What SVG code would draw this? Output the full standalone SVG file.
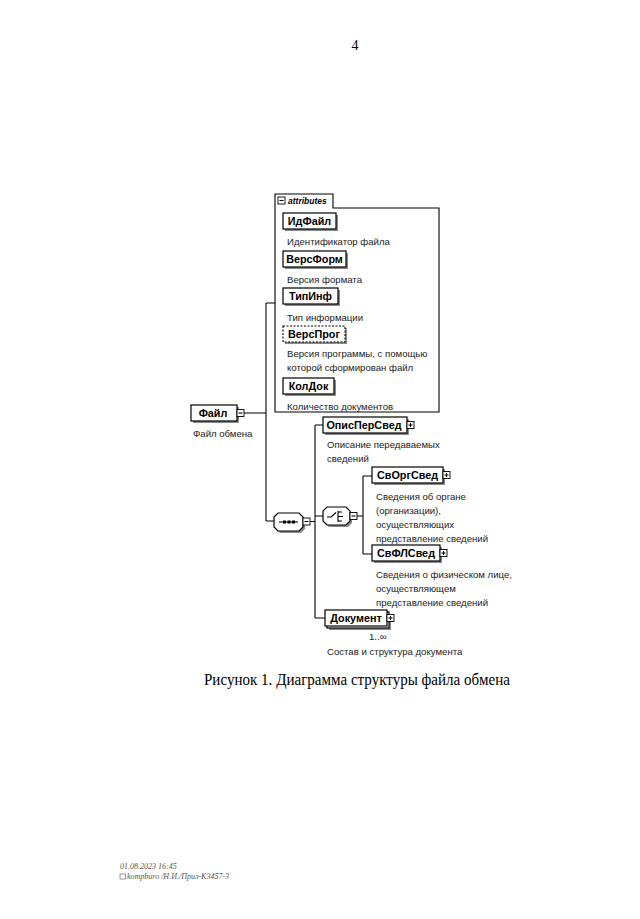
<svg xmlns="http://www.w3.org/2000/svg" width="640" height="919" viewBox="0 0 640 919">
<style>
.bg{fill:#ffffff}
.box{fill:#ffffff;stroke:#000;stroke-width:1.2}
.dash{fill:#ffffff;stroke:#000;stroke-width:1.1;stroke-dasharray:2 1.5}
.sh{fill:#8a8a8a}
.ln{fill:none;stroke:#000;stroke-width:1.1}
.nm{font-family:"Liberation Sans",Arial,sans-serif;font-size:10.8px;font-weight:bold;fill:#000;text-anchor:middle}
.ds{font-family:"Liberation Sans",Arial,sans-serif;font-size:9.6px;fill:#222}
.pm{fill:#fff;stroke:#000;stroke-width:0.9}
</style>
<rect class="bg" x="0" y="0" width="640" height="919"/>
<text x="355" y="50" font-family="Liberation Serif,serif" font-size="14" fill="#000" text-anchor="middle">4</text>

<g id="connectors">
<path class="ln" d="M244,413 H266 M266,303 V521 M266,303 H275 M266,521 H274"/>
<path class="ln" d="M310,521.5 H315 M315,425 V618 M315,425 H323 M315,516 H323 M315,618 H325"/>
<path class="ln" d="M357,516 H363 M363,476 V554 M363,476 H372 M363,554 H372"/>
</g>

<g id="attributes">
<path class="ln" d="M275,194 H333 V208 H439 V412 H275 Z M275,194 V412" stroke-width="1.2"/>
<rect class="pm" x="278" y="197" width="7" height="7"/>
<path class="ln" d="M279.5,200.5 H283.5" stroke-width="0.9"/>
<text x="288" y="204" font-family="Liberation Sans,Arial,sans-serif" font-size="8.5" font-style="italic" font-weight="bold" fill="#000">attributes</text>
</g>

<g id="IdFile">
<rect class="sh" x="285" y="215" width="53" height="16"/>
<rect class="box" x="283" y="213" width="53" height="16"/>
<text class="nm" x="309.5" y="225">ИдФайл</text>
<text class="ds" x="287" y="245">Идентификатор файла</text>
</g>
<g id="VersForm">
<rect class="sh" x="285" y="253" width="63" height="16"/>
<rect class="box" x="283" y="251" width="63" height="16"/>
<text class="nm" x="314.5" y="263">ВерсФорм</text>
<text class="ds" x="287" y="283">Версия формата</text>
</g>
<g id="TipInf">
<rect class="sh" x="285" y="290" width="55" height="16"/>
<rect class="box" x="283" y="288" width="55" height="16"/>
<text class="nm" x="310.5" y="300">ТипИнф</text>
<text class="ds" x="287" y="321">Тип информации</text>
</g>
<g id="VersProg">
<rect class="sh" x="285" y="328" width="62" height="16"/>
<rect class="dash" x="283" y="326" width="62" height="16"/>
<text class="nm" x="314" y="338">ВерсПрог</text>
<text class="ds" x="287" y="357">Версия программы, с помощью</text>
<text class="ds" x="287" y="371">которой сформирован файл</text>
</g>
<g id="KolDok">
<rect class="sh" x="285" y="380" width="51" height="16"/>
<rect class="box" x="283" y="378" width="51" height="16"/>
<text class="nm" x="308.5" y="390">КолДок</text>
<text class="ds" x="287" y="410">Количество документов</text>
</g>

<g id="File">
<rect class="sh" x="193" y="407" width="46" height="16"/>
<rect class="box" x="191" y="405" width="46" height="16"/>
<text class="nm" x="213" y="417">Файл</text>
<rect class="pm" x="237" y="409.5" width="7" height="7"/>
<path class="ln" d="M238.5,413 H242.5" stroke-width="0.9"/>
<text class="ds" x="193" y="437">Файл обмена</text>
</g>

<g id="sequence">
<path class="sh" d="M280,515 H301 L305,519 V529 L301,533 H280 L276,529 V519 Z"/>
<path class="box" d="M278,513 H299 L303,517 V527 L299,531 H278 L274,527 V517 Z"/>
<path class="ln" d="M279,522 H298"/>
<rect x="283" y="520.5" width="3" height="3" fill="#000"/>
<rect x="287.5" y="520.5" width="3" height="3" fill="#000"/>
<rect x="292" y="520.5" width="3" height="3" fill="#000"/>
<rect class="pm" x="303" y="518" width="7" height="7"/>
<path class="ln" d="M304.5,521.5 H308.5" stroke-width="0.9"/>
</g>

<g id="choice">
<path class="sh" d="M329,509 H348 L352,513 V523 L348,527 H329 L325,523 V513 Z"/>
<path class="box" d="M327,507 H346 L350,511 V521 L346,525 H327 L323,521 V511 Z"/>
<path class="ln" d="M327,517 H331 L336,512.5 M338,511 V522 M338,512 H342 M338,516.5 H343 M338,521 H342" stroke-width="1"/>
<rect class="pm" x="350" y="512.5" width="7" height="7"/>
<path class="ln" d="M351.5,516 H355.5" stroke-width="0.9"/>
</g>

<g id="OpisPerSved">
<rect class="sh" x="325" y="419" width="84" height="16"/>
<rect class="box" x="323" y="417" width="84" height="16"/>
<text class="nm" x="364" y="429">ОписПерСвед</text>
<rect class="pm" x="407" y="421.5" width="7" height="7"/>
<path class="ln" d="M408.5,425 H412.5 M410.5,423 V427" stroke-width="0.9"/>
<text class="ds" x="327" y="448">Описание передаваемых</text>
<text class="ds" x="327" y="462">сведений</text>
</g>

<g id="SvOrgSved">
<rect class="sh" x="374" y="469" width="71" height="16"/>
<rect class="box" x="372" y="467" width="71" height="16"/>
<text class="nm" x="407.5" y="479">СвОргСвед</text>
<rect class="pm" x="443" y="471.5" width="7" height="7"/>
<path class="ln" d="M444.5,475 H448.5 M446.5,473 V477" stroke-width="0.9"/>
<text class="ds" x="376" y="500">Сведения об органе</text>
<text class="ds" x="376" y="514">(организации),</text>
<text class="ds" x="376" y="528">осуществляющих</text>
<text class="ds" x="376" y="542">представление сведений</text>
</g>

<g id="SvFLSved">
<rect class="sh" x="374" y="547" width="68" height="16"/>
<rect class="box" x="372" y="545" width="68" height="16"/>
<text class="nm" x="406" y="557">СвФЛСвед</text>
<rect class="pm" x="440" y="549.5" width="7" height="7"/>
<path class="ln" d="M441.5,553 H445.5 M443.5,551 V555" stroke-width="0.9"/>
<text class="ds" x="376" y="578">Сведения о физическом лице,</text>
<text class="ds" x="376" y="592">осуществляющем</text>
<text class="ds" x="376" y="606">представление сведений</text>
</g>

<g id="Dokument">
<rect class="sh" x="329" y="614" width="62" height="16"/>
<rect class="box" x="327" y="612" width="62" height="16"/>
<rect class="box" x="325" y="610" width="62" height="16"/>
<text class="nm" x="356" y="622">Документ</text>
<rect class="pm" x="387" y="614.5" width="7" height="7"/>
<path class="ln" d="M388.5,618 H392.5 M390.5,616 V620" stroke-width="0.9"/>
<text class="ds" x="369" y="640">1..∞</text>
<text class="ds" x="327" y="655">Состав и структура документа</text>
</g>

<text x="357" y="685" font-family="Liberation Serif,serif" font-size="17" fill="#000" text-anchor="middle" textLength="306" lengthAdjust="spacingAndGlyphs">Рисунок 1. Диаграмма структуры файла обмена</text>

<g id="footer" font-family="Liberation Serif,serif" font-size="8" font-style="italic" fill="#555">
<text x="120" y="869">01.08.2023 16:45</text>
<rect x="120" y="874" width="5.5" height="5" fill="none" stroke="#555" stroke-width="0.6"/>
<text x="127" y="879">kompburo /Н.И./Прил-К3457-3</text>
</g>
</svg>
